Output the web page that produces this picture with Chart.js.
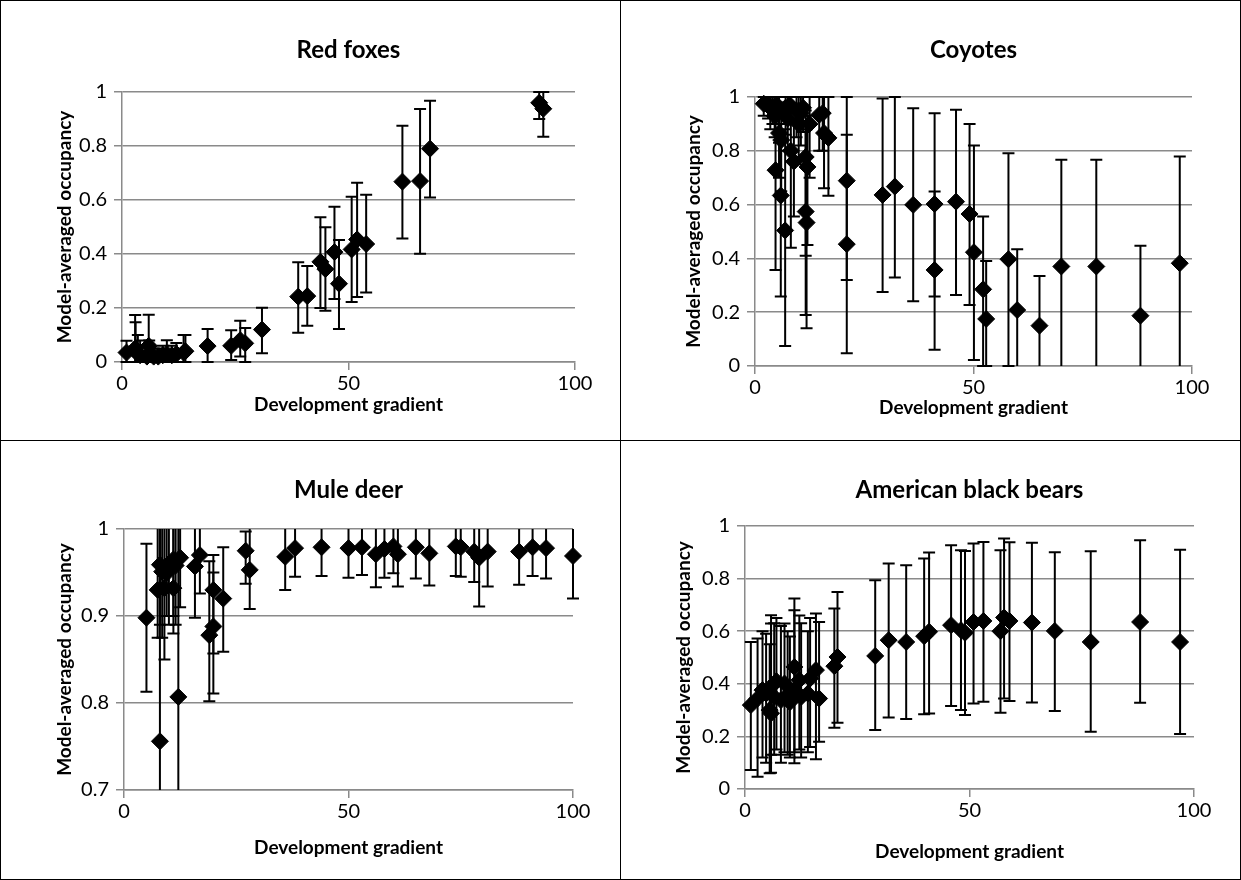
<!DOCTYPE html>
<html>
<head>
<meta charset="utf-8">
<script src="https://cdn.jsdelivr.net/npm/chart.js@4.4.1/dist/chart.umd.min.js"></script>
<style>
  html, body { margin: 0; padding: 0; background: #fff; }
  #wrap { position: relative; width: 1241px; height: 880px; }
  canvas { position: absolute; }
  .line { position: absolute; background: #000; }
</style>
</head>
<body>
<div id="wrap">
  <canvas id="c1" width="620" height="440" style="left:0;top:0"></canvas>
  <canvas id="c2" width="620" height="440" style="left:621px;top:0"></canvas>
  <canvas id="c3" width="620" height="440" style="left:0;top:440px"></canvas>
  <canvas id="c4" width="620" height="440" style="left:621px;top:440px"></canvas>
  <div class="line" style="left:0;top:0;width:1241px;height:1px"></div>
  <div class="line" style="left:0;top:879px;width:1241px;height:1px"></div>
  <div class="line" style="left:0;top:0;width:1px;height:880px"></div>
  <div class="line" style="left:1240px;top:0;width:1px;height:880px"></div>
  <div class="line" style="left:620px;top:0;width:1px;height:880px"></div>
  <div class="line" style="left:0;top:440px;width:1241px;height:1px"></div>
</div>
<script>
// Red foxes
const foxX  = [1, 2.9, 3, 3.5, 4, 5.9, 5.5, 6, 7, 8, 9, 9.9, 11, 12, 13.6, 14, 18.9, 24.1, 26.1, 27.2, 30.9, 38.9, 40.9, 43.8, 44.9, 46.9, 47.9, 50.7, 51.9, 53.9, 61.9, 65.8, 68, 92.1, 93];
const foxY  = [0.035, 0.05, 0.04, 0.03, 0.025, 0.06, 0.02, 0.03, 0.02, 0.02, 0.025, 0.03, 0.025, 0.03, 0.035, 0.04, 0.059, 0.06, 0.081, 0.069, 0.12, 0.242, 0.244, 0.371, 0.344, 0.407, 0.29, 0.417, 0.454, 0.437, 0.668, 0.67, 0.79, 0.96, 0.938];
const foxHi = [0.079, 0.174, 0.147, 0.1, 0.08, 0.175, 0.06, 0.08, 0.05, 0.05, 0.06, 0.081, 0.06, 0.07, 0.1, 0.1, 0.122, 0.118, 0.153, 0.126, 0.201, 0.369, 0.356, 0.536, 0.499, 0.575, 0.452, 0.612, 0.664, 0.619, 0.875, 0.937, 0.968, 1.0, 1.0];
const foxLo = [0, 0, 0, 0, 0, 0, 0, 0, 0, 0, 0, 0, 0, 0, 0, 0, 0, 0.007, 0.02, 0, 0.032, 0.108, 0.134, 0.2, 0.19, 0.233, 0.122, 0.222, 0.241, 0.257, 0.457, 0.401, 0.609, 0.9, 0.834];

// Coyotes
const coyX  = [2, 3, 3.5, 4, 4.5, 4.7, 5, 5.5, 5.5, 5.9, 6, 6.9, 7, 7.5, 8, 8.2, 8.9, 9.5, 10, 10.5, 11, 11.6, 11.6, 11.8, 12, 12.5, 14.7, 15.5, 15.8, 16.8, 21, 21, 29.2, 32, 36.2, 41.1, 41.1, 46, 49.1, 50.1, 52.2, 52.9, 58, 60, 65.1, 70.1, 78.1, 88.2, 97.2];
const coyY  = [0.975, 0.97, 0.96, 0.965, 0.93, 0.728, 0.97, 0.95, 0.866, 0.634, 0.84, 0.504, 0.96, 0.92, 0.97, 0.8, 0.76, 0.95, 0.9, 0.94, 0.96, 0.777, 0.574, 0.533, 0.74, 0.9, 0.934, 0.94, 0.866, 0.848, 0.689, 0.453, 0.636, 0.667, 0.599, 0.602, 0.357, 0.611, 0.565, 0.423, 0.285, 0.175, 0.397, 0.208, 0.15, 0.37, 0.37, 0.187, 0.382];
const coyHi = [1, 1, 1, 1, 1, 0.93, 1, 1, 0.98, 0.9, 0.97, 0.88, 1, 1, 1, 0.97, 0.92, 1, 1, 1, 1, 0.95, 0.9, 0.88, 0.93, 1, 1, 1, 1, 1, 0.86, 1, 0.994, 1, 0.958, 0.94, 0.649, 0.953, 0.9, 0.82, 0.556, 0.39, 0.791, 0.434, 0.335, 0.767, 0.767, 0.447, 0.779];
const coyLo = [0.93, 0.92, 0.88, 0.9, 0.85, 0.357, 0.9, 0.83, 0.7, 0.258, 0.65, 0.074, 0.86, 0.8, 0.9, 0.44, 0.556, 0.85, 0.75, 0.82, 0.87, 0.41, 0.19, 0.14, 0.45, 0.7, 0.8, 0.8, 0.661, 0.633, 0.047, 0.32, 0.275, 0.329, 0.241, 0.258, 0.06, 0.264, 0.227, 0.022, 0, 0, 0, -0.05, -0.05, -0.05, -0.05, -0.05, -0.05];

// Mule deer
const deerX  = [5, 7.5, 8, 8, 8.5, 9, 9.5, 10, 11, 11, 11.5, 12.1, 12.5, 15.8, 16.9, 19, 19.9, 19.9, 22.1, 27.1, 28, 35.9, 38.1, 44, 50, 53, 56.1, 58, 60, 61, 65, 68, 73.9, 75, 78, 79.1, 81, 88, 91, 94, 100];
const deerY  = [0.898, 0.93, 0.959, 0.756, 0.951, 0.932, 0.949, 0.96, 0.965, 0.932, 0.958, 0.807, 0.967, 0.957, 0.97, 0.878, 0.888, 0.93, 0.92, 0.975, 0.953, 0.968, 0.978, 0.979, 0.978, 0.979, 0.971, 0.977, 0.98, 0.971, 0.979, 0.972, 0.98, 0.979, 0.974, 0.967, 0.974, 0.974, 0.979, 0.978, 0.969];
const deerHi = [0.983, 1.02, 1.02, 1.02, 1.02, 1.02, 1.02, 1.02, 1.02, 1.02, 1.02, 1.02, 1.02, 1.02, 1.02, 0.963, 0.95, 0.97, 0.979, 0.997, 1.02, 1.02, 1.02, 1.02, 1.02, 1.02, 1.02, 1.02, 1.02, 1.02, 1.02, 1.02, 1.02, 1.02, 1.02, 1.02, 1.02, 1.02, 1.02, 1.02, 1.02];
const deerLo = [0.813, 0.875, 0.89, 0.6, 0.875, 0.85, 0.9, 0.89, 0.9, 0.88, 0.89, 0.6, 0.91, 0.898, 0.926, 0.802, 0.811, 0.857, 0.859, 0.937, 0.908, 0.93, 0.945, 0.946, 0.944, 0.947, 0.933, 0.944, 0.949, 0.934, 0.943, 0.935, 0.946, 0.945, 0.939, 0.911, 0.934, 0.936, 0.946, 0.943, 0.92];

// American black bears
const bearX  = [1.3, 2.8, 3.9, 4.7, 5.5, 5.8, 5.8, 6.5, 7, 8, 8.8, 9.5, 10, 11, 11, 12.1, 12.5, 14, 14.5, 15.8, 16.5, 19.9, 20.6, 29, 32, 35.9, 39.9, 41, 45.9, 48.1, 49, 50.9, 53.1, 56.9, 57.7, 58.9, 63.9, 69, 77, 88, 96.9];
const bearY  = [0.319, 0.344, 0.376, 0.363, 0.3, 0.288, 0.389, 0.35, 0.41, 0.338, 0.401, 0.357, 0.33, 0.464, 0.376, 0.414, 0.35, 0.363, 0.42, 0.452, 0.344, 0.467, 0.502, 0.506, 0.566, 0.559, 0.581, 0.598, 0.623, 0.604, 0.594, 0.635, 0.639, 0.6, 0.652, 0.639, 0.633, 0.601, 0.559, 0.635, 0.559];
const bearHi = [0.559, 0.572, 0.6, 0.59, 0.55, 0.629, 0.661, 0.63, 0.65, 0.62, 0.629, 0.6, 0.58, 0.724, 0.68, 0.66, 0.63, 0.6, 0.65, 0.667, 0.635, 0.686, 0.749, 0.794, 0.857, 0.851, 0.876, 0.899, 0.927, 0.908, 0.905, 0.933, 0.939, 0.908, 0.952, 0.938, 0.936, 0.9, 0.904, 0.946, 0.91];
const bearLo = [0.072, 0.047, 0.12, 0.1, 0.06, 0.062, 0.13, 0.13, 0.15, 0.1, 0.14, 0.13, 0.12, 0.098, 0.14, 0.15, 0.12, 0.14, 0.16, 0.113, 0.18, 0.233, 0.252, 0.224, 0.272, 0.266, 0.284, 0.287, 0.316, 0.3, 0.281, 0.325, 0.332, 0.29, 0.344, 0.335, 0.329, 0.297, 0.218, 0.328, 0.209];

const FONT = 'Lato, "Open Sans", sans-serif';
const GRID = '#8a8a8a';

// error bars, drawn under the diamonds; ends outside the axis range run to the edge with no cap
const errorBars = {
  id: 'errorBars',
  beforeDatasetsDraw(chart) {
    const { ctx, scales: { x, y } } = chart;
    ctx.save();
    ctx.strokeStyle = '#000';
    ctx.lineWidth = 2;
    chart.data.datasets[0].data.forEach(p => {
      const px = x.getPixelForValue(p.x);
      const top = y.getPixelForValue(Math.min(p.hi, y.max));
      const bot = y.getPixelForValue(Math.max(p.lo, y.min));
      ctx.beginPath();
      ctx.moveTo(px, top);
      ctx.lineTo(px, bot);
      if (p.hi <= y.max) { ctx.moveTo(px - 6, top); ctx.lineTo(px + 6, top); }
      if (p.lo >= y.min) { ctx.moveTo(px - 6, bot); ctx.lineTo(px + 6, bot); }
      ctx.stroke();
    });
    ctx.restore();
  }
};

// panel title centred over the plot area
const panelTitle = {
  id: 'panelTitle',
  afterDraw(chart, args, opts) {
    const { ctx, chartArea } = chart;
    ctx.save();
    ctx.font = 'bold 24px ' + FONT;
    ctx.fillStyle = '#000';
    ctx.textAlign = 'center';
    ctx.textBaseline = 'middle';
    ctx.fillText(opts.text, (chartArea.left + chartArea.right) / 2, opts.y);
    ctx.restore();
  }
};

function makePanel(id, title, xs, ys, lo, hi, box) {
  const pts = xs.map((v, i) => ({ x: v, y: ys[i], lo: lo[i], hi: hi[i] }));
  return new Chart(document.getElementById(id), {
    type: 'scatter',
    data: {
      datasets: [{
        data: pts,
        pointStyle: 'rectRot',
        pointRadius: 8.5,
        pointHoverRadius: 8.5,
        backgroundColor: '#000',
        borderColor: '#000',
        borderWidth: 1,
        clip: false
      }]
    },
    options: {
      responsive: false,
      animation: false,
      events: [],
      layout: { padding: { left: 0, top: box.top, right: 620 - box.right, bottom: 0 } },
      plugins: {
        legend: { display: false },
        tooltip: { enabled: false },
        panelTitle: { text: title, y: box.titleY }
      },
      scales: {
        x: {
          type: 'linear',
          min: 0, max: 100,
          ticks: { stepSize: 50, color: '#000', font: { family: FONT, size: 20 }, padding: 2 },
          grid: { drawOnChartArea: false, drawTicks: true, tickLength: 8, color: GRID, lineWidth: 1.5 },
          border: { color: GRID, width: 1.5 },
          title: { display: true, text: 'Development gradient', color: '#000',
                   font: { family: FONT, size: 19, weight: 'bold' }, padding: { top: 0, bottom: box.xTitlePad } },
          afterFit: s => { s.height = 440 - box.bottom; }
        },
        y: {
          min: box.ymin, max: 1,
          ticks: { stepSize: box.ystep, color: '#000', font: { family: FONT, size: 20 }, padding: 7,
                   callback: v => String(+v.toFixed(1)) },
          grid: { color: GRID, lineWidth: 1.5, tickLength: 8 },
          border: { color: GRID, width: 1.5 },
          title: { display: true, text: 'Model-averaged occupancy', color: '#000',
                   font: { family: FONT, size: 19, weight: 'bold' }, padding: { top: box.yTitlePad, bottom: 0 } },
          afterFit: s => { s.width = box.left; }
        }
      }
    },
    plugins: [errorBars, panelTitle]
  });
}

makePanel('c1', 'Red foxes', foxX, foxY, foxLo, foxHi,
  { left: 122, right: 575, top: 92, bottom: 362, ymin: 0, ystep: 0.2, titleY: 50, xTitlePad: 24, yTitlePad: 53 });
makePanel('c2', 'Coyotes', coyX, coyY, coyLo, coyHi,
  { left: 134, right: 571, top: 97, bottom: 366, ymin: 0, ystep: 0.2, titleY: 50, xTitlePad: 21, yTitlePad: 61 });
makePanel('c3', 'Mule deer', deerX, deerY, deerLo, deerHi,
  { left: 124, right: 573, top: 89, bottom: 350, ymin: 0.7, ystep: 0.1, titleY: 50, xTitlePad: 21, yTitlePad: 53 });
makePanel('c4', 'American black bears', bearX, bearY, bearLo, bearHi,
  { left: 124, right: 573, top: 86, bottom: 349, ymin: 0, ystep: 0.2, titleY: 50, xTitlePad: 17, yTitlePad: 51 });
</script>
</body>
</html>
